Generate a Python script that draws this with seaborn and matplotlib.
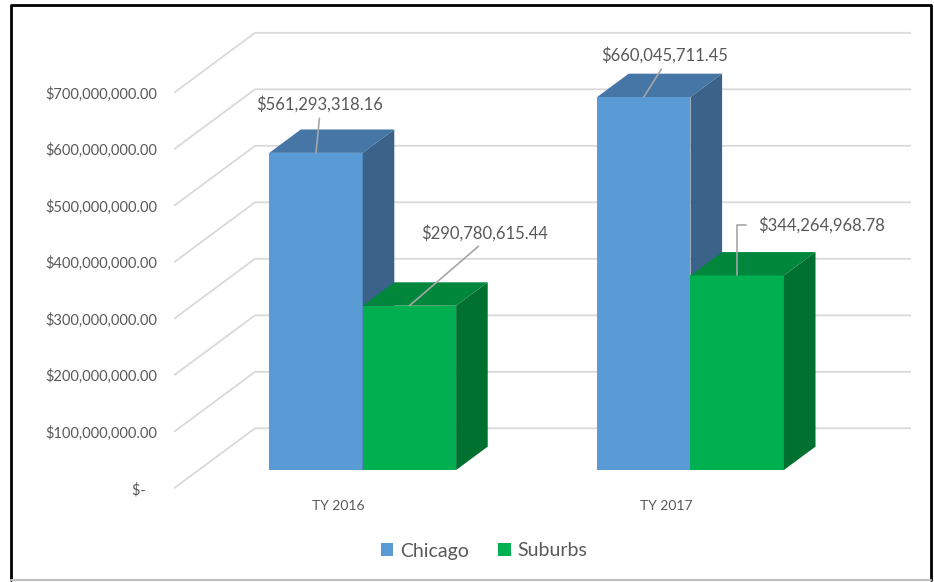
import matplotlib
matplotlib.use("Agg")
import matplotlib.pyplot as plt
from matplotlib.patches import Polygon
from matplotlib.lines import Line2D
import seaborn as sns
import pandas as pd

# --- data -------------------------------------------------------------
years = ["TY 2016", "TY 2017"]
regions = ["Chicago", "Suburbs"]
chicago = [561293318.16, 660045711.45]
suburbs = [290780615.44, 344264968.78]
y_ticks = [0, 100e6, 200e6, 300e6, 400e6, 500e6, 600e6, 700e6]

# --- look -------------------------------------------------------------
front = {"Chicago": "#5B9BD5", "Suburbs": "#00B050"}
top = {"Chicago": "#4576A6", "Suburbs": "#00873C"}
side = {"Chicago": "#3B6389", "Suburbs": "#007030"}
text_c = "#595959"
grid_c = "#D9D9D9"

# label offsets from the bar top (px, right / up), one per bar
label_off = {("Chicago", 0): (4, 49), ("Chicago", 1): (21, 42),
             ("Suburbs", 0): (75, 73), ("Suburbs", 1): (84, 50)}

W, H = 934, 582
AX_L, AX_R, AX_T, AX_B = 174, 912, 28, 492
CAT0_PX, PX_PER_CAT = 362.7, 327.8     # category 0 centre, px per category
BASE_PX, PX_PER_100M = 470, 56.5       # value 0 on bar front plane

sns.set_theme(style="white")
plt.rcParams["font.family"] = ["Lato", "DejaVu Sans"]

df = pd.DataFrame({
    "year": years * 2,
    "region": [regions[0]] * 2 + [regions[1]] * 2,
    "value": chicago + suburbs,
})

fig = plt.figure(figsize=(W / 100, H / 100), dpi=100)
ax = fig.add_axes([AX_L / W, 1 - AX_B / H, (AX_R - AX_L) / W, (AX_B - AX_T) / H])

sns.barplot(data=df, x="year", y="value", hue="region", hue_order=regions,
            palette=[front[r] for r in regions], saturation=1, width=0.57,
            errorbar=None, linewidth=0, ax=ax)

ax.set_xlim((AX_L - CAT0_PX) / PX_PER_CAT, (AX_R - CAT0_PX) / PX_PER_CAT)
ax.set_ylim((BASE_PX - AX_B) / PX_PER_100M * 1e8, (BASE_PX - AX_T) / PX_PER_100M * 1e8)


def px(dx, dy):
    """pixel offset (right, up) -> data offset"""
    return dx / PX_PER_CAT, dy / PX_PER_100M * 1e8


# 3d geometry: full floor depth and where the bars sit in it
depth = (81, 60)
t_bar, t_len = 0.305, 0.39
fdx, fdy = px(-depth[0] * t_bar, -depth[1] * t_bar)              # front edge
bdx, bdy = px(depth[0] * (1 - t_bar), depth[1] * (1 - t_bar))    # back wall
ddx, ddy = px(depth[0] * t_len, depth[1] * t_len)                # bar depth

x_left = ax.get_xlim()[0]
x_right = ax.get_xlim()[1] - px(1, 0)[0]
for v in y_ticks:
    ax.plot([x_left, x_left + (bdx - fdx), x_right], [v + fdy, v + bdy, v + bdy],
            color=grid_c, lw=1.3, zorder=0.5, solid_capstyle="butt")

# extrude the seaborn bars into boxes
for k, (cont, reg) in enumerate(zip(ax.containers, regions)):
    for i, bar in enumerate(cont):
        x0, y0 = bar.get_x(), bar.get_y()
        x1, y1 = x0 + bar.get_width(), y0 + bar.get_height()
        bar.set_zorder(2 + k)
        ax.add_patch(Polygon([(x0, y1), (x1, y1), (x1 + ddx, y1 + ddy), (x0 + ddx, y1 + ddy)],
                             closed=True, fc=top[reg], ec="none", zorder=2.1 + k))
        ax.add_patch(Polygon([(x1, y0), (x1 + ddx, y0 + ddy), (x1 + ddx, y1 + ddy), (x1, y1)],
                             closed=True, fc=side[reg], ec="none", zorder=2.2 + k))

        ox, oy = label_off[(reg, i)]
        bent = reg == "Suburbs" and i == 1
        arrow = dict(arrowstyle="-", color="#A6A6A6", lw=1.2, shrinkB=0)
        if bent:
            arrow.update(relpos=(0, 0.5), shrinkA=6,
                         connectionstyle="angle,angleA=0,angleB=90,rad=0")
        else:
            arrow.update(relpos=(0.5, 0))
        ax.annotate(f"${bar.get_height():,.2f}", xy=(x0 + bar.get_width() / 2, y1),
                    xytext=(ox * 0.72, oy * 0.72), textcoords="offset points",
                    ha="center", va="center", fontsize=12, color=text_c,
                    arrowprops=arrow, zorder=6)

# axes text
ylabels = [f"${v:,.2f}" if v else "$-   " for v in y_ticks]
ax.set_yticks([v + fdy for v in y_ticks], ylabels)
ax.set_xticks([i + fdx for i in range(len(years))], years)
ax.tick_params(axis="y", length=0, pad=12, labelsize=10.5, labelcolor=text_c)
ax.tick_params(axis="x", length=0, pad=6, labelsize=10, labelcolor=text_c)
ax.set_xlabel("")
ax.set_ylabel("")
sns.despine(ax=ax, left=True, bottom=True)

sns.move_legend(ax, "center", bbox_to_anchor=((484 - AX_L) / (AX_R - AX_L), (AX_B - 551) / (AX_B - AX_T)),
                ncol=2, frameon=False, title=None, fontsize=14, handlelength=0.65,
                handleheight=0.65, handletextpad=0.35, columnspacing=1.5)
for t in ax.get_legend().get_texts():
    t.set_color(text_c)

# outer frame
fig.add_artist(Line2D([11 / W, 11 / W, 931 / W, 931 / W], [1 - 580 / H, 1 - 5 / H, 1 - 5 / H, 1 - 580 / H],
                      color="black", lw=2))
fig.add_artist(Line2D([11 / W, 931 / W], [1 - 580 / H, 1 - 580 / H], color="#BFBFBF", lw=1.5))

fig.savefig("out.png", dpi=100)
